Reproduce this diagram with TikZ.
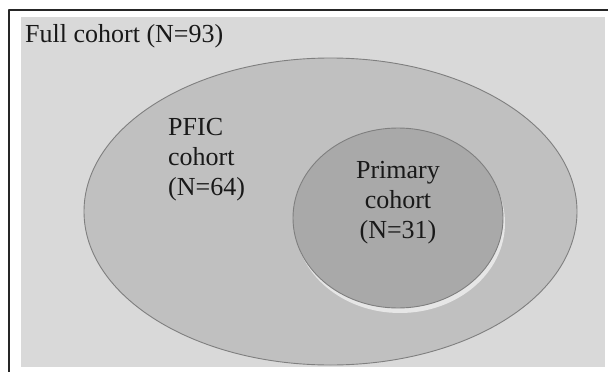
\documentclass[tikz,border=0pt]{standalone}
\usepackage{fontspec}
\setmainfont{Liberation Serif}
\definecolor{bggray}{HTML}{D9D9D9}
\definecolor{midgray}{HTML}{C0C0C0}
\definecolor{darkgray}{HTML}{A9A9A9}
\definecolor{rimgray}{HTML}{7F7F7F}
\definecolor{glowgray}{HTML}{E6E6E6}
\tikzset{
  cohort/.style={draw=rimgray, line width=0.9pt},
  label/.style={font=\fontsize{26}{30}\selectfont, text=black!90, inner sep=0pt}
}
\begin{document}
\begin{tikzpicture}[x=1pt, y=-1pt, line join=round, line cap=round]
    \useasboundingbox (0,0) rectangle (608,372);
    \fill[white] (0,0) rectangle (608,372);
    %\draw[dashed, line width=0.1pt, gray] (0,0) grid[step=50] (608,372);
    \draw[line width=2pt, black!85] (8.5,372) -- (8.5,9.5) -- (608,9.5);
    \fill[bggray] (21,17) rectangle (605,367);
    \node[label, anchor=base west] (full) at (25,42) {Full cohort (N=93)};
    \draw[cohort, fill=midgray] (330.5,211.5) ellipse [x radius=246.5, y radius=153.5];
    \fill[glowgray] (400,223) ellipse [x radius=105, y radius=90];
    \draw[cohort, fill=darkgray] (398,218) ellipse [x radius=105, y radius=90];
    \node[label, anchor=base west, align=left] (pfic) at (168,195)
        {PFIC\\cohort\\(N=64)};
    \node[label, anchor=base, align=center] (primary) at (398,238)
        {Primary\\cohort\\(N=31)};
\end{tikzpicture}
\end{document}
